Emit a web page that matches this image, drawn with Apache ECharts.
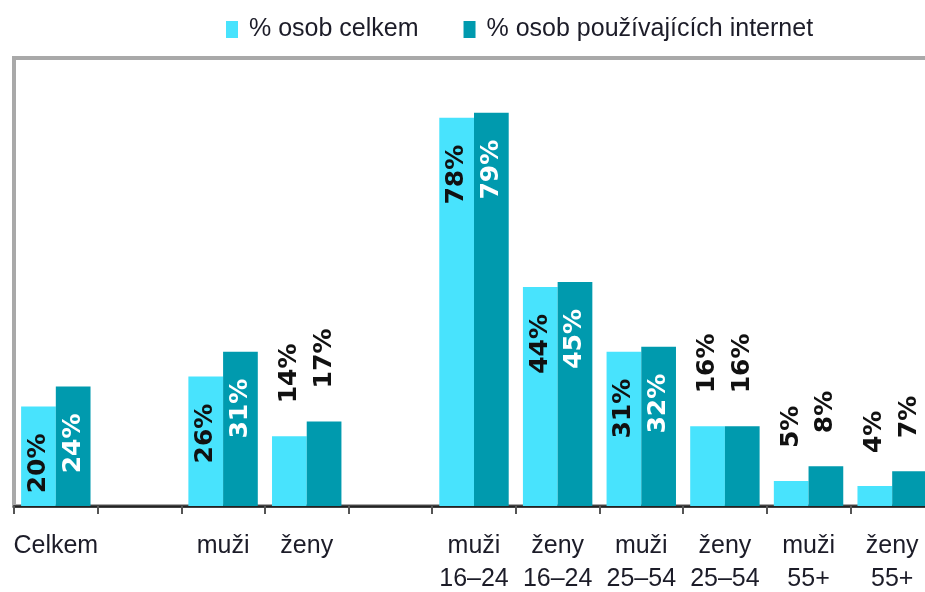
<!DOCTYPE html>
<html lang="cs">
<head>
    <meta charset="UTF-8">
    <title>Osoby podle pohlaví a věku</title>
    <script src="https://cdn.jsdelivr.net/npm/echarts@6/dist/echarts.min.js"></script>
</head>
<body style="margin:0;background:#fff;">
<div id="main" style="width: 925px;height:592px;"></div>
<script type="text/javascript">
    // kategorie (prázdné = mezera mezi skupinami)
    var categories = ['Celkem', '', 'muži', 'ženy', '', 'muži\n16–24', 'ženy\n16–24', 'muži\n25–54', 'ženy\n25–54', 'muži\n55+', 'ženy\n55+'];
    var seriesNames = ['% osob celkem', '% osob používajících internet'];
    // hodnoty v %
    var celkemData = [20, null, 26, 14, null, 78, 44, 31, 16, 5, 4];
    var internetData = [24, null, 31, 17, null, 79, 45, 32, 16, 8, 7];

    var lightColor = '#48e3fd';
    var darkColor = '#009aae';

    // popisky: velké sloupce uvnitř, malé nad sloupcem
    function buildData(values, insideColor) {
        var out = [];
        for (var i = 0; i < values.length; i++) {
            var v = values[i];
            if (v == null) {
                out.push(null);
                continue;
            }
            var inside = v >= 20;
            out.push({
                value: v,
                label: {
                    position: inside ? 'insideTop' : 'top',
                    align: inside ? 'right' : 'left',
                    distance: inside ? 27 : 33,
                    color: inside ? insideColor : '#111'
                }
            });
        }
        return out;
    }

    var labelBase = {
        show: true,
        rotate: 90,
        verticalAlign: 'middle',
        formatter: '{c}%',
        fontFamily: 'DejaVu Sans',
        fontWeight: 'bold',
        fontSize: 25
    };

    var myChart = echarts.init(document.getElementById('main'));
    var option = {
        backgroundColor: '#fff',
        animation: false,
        legend: {
            left: 221,
            top: 12,
            itemWidth: 12,
            itemHeight: 17,
            itemGap: 45,
            icon: 'rect',
            textStyle: {
                fontFamily: 'Liberation Sans',
                fontSize: 25,
                color: '#1c1c28',
                padding: [0, 0, 0, 6]
            },
            data: seriesNames
        },
        grid: {
            left: 14,
            top: 58,
            width: 920,
            height: 448,
            show: true,
            borderColor: '#a9a9a9',
            borderWidth: 4,
            outerBoundsMode: 'none'
        },
        xAxis: {
            type: 'category',
            data: categories,
            axisLine: {lineStyle: {color: '#222', width: 2.5}},
            axisTick: {show: true, length: 8, lineStyle: {color: '#555', width: 2}},
            axisLabel: {
                interval: 0,
                margin: 24,
                fontFamily: 'Liberation Sans',
                fontSize: 25,
                lineHeight: 33,
                color: '#1c1c28'
            },
            splitLine: {show: false}
        },
        yAxis: {
            type: 'value',
            min: 0,
            max: 90,
            show: false,
            splitLine: {show: false}
        },
        series: [
            {
                name: seriesNames[0],
                type: 'bar',
                barGap: '0%',
                barCategoryGap: '17%',
                itemStyle: {color: lightColor},
                label: labelBase,
                data: buildData(celkemData, '#111')
            },
            {
                name: seriesNames[1],
                type: 'bar',
                barGap: '0%',
                barCategoryGap: '17%',
                itemStyle: {color: darkColor},
                label: labelBase,
                data: buildData(internetData, '#fff')
            }
        ]
    };
    myChart.setOption(option);
</script>
</body>
</html>
